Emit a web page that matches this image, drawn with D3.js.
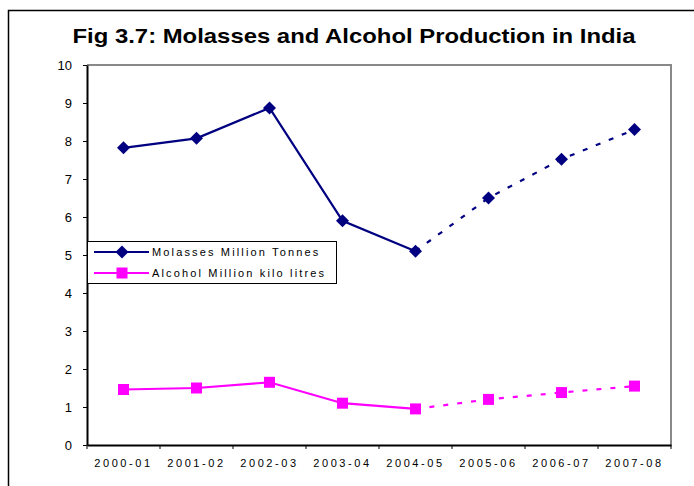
<!DOCTYPE html>
<html>
<head>
<meta charset="utf-8">
<script src="https://cdn.jsdelivr.net/npm/d3@7"></script>
<style>
  body { margin: 0; background: #fff; }
  svg { display: block; font-family: Arial, "Liberation Sans", sans-serif; }
</style>
</head>
<body>
<div id="chart"></div>
<script>
// chart data
const years = ["2000-01", "2001-02", "2002-03", "2003-04", "2004-05", "2005-06", "2006-07", "2007-08"];
const molasses = [7.82, 8.07, 8.87, 5.9, 5.1, 6.5, 7.52, 8.3];
const alcohol = [1.46, 1.5, 1.65, 1.1, 0.95, 1.2, 1.38, 1.55];
const yTicks = [0, 1, 2, 3, 4, 5, 6, 7, 8, 9, 10];
const lastActual = "2004-05"; // after this the values are projections (dashed)

const width = 694, height = 486;
const margin = { top: 65, right: 23, bottom: 41, left: 87 };

const svg = d3.select("#chart")
    .append("svg")
    .attr("width", width)
    .attr("height", height);

// outer frame
svg.append("rect")
    .attr("x", 8.5).attr("y", 10.5)
    .attr("width", 700).attr("height", 500)
    .attr("fill", "none")
    .attr("stroke", "#000")
    .attr("stroke-width", 1.5);

svg.append("text")
    .attr("x", 354)
    .attr("y", 43)
    .attr("text-anchor", "middle")
    .attr("textLength", 563)
    .attr("lengthAdjust", "spacingAndGlyphs")
    .style("font-size", "21px")
    .style("font-weight", "bold")
    .text("Fig 3.7: Molasses and Alcohol Production in India");

const x = d3.scaleBand()
    .domain(years)
    .range([margin.left, width - margin.right]);

const y = d3.scaleLinear()
    .domain([0, 10])
    .range([height - margin.bottom, margin.top]);

// plot area border (gray top/right)
svg.append("path")
    .attr("d", `M${margin.left},${margin.top}H${width - margin.right}V${height - margin.bottom}`)
    .attr("fill", "none")
    .attr("stroke", "#888")
    .attr("stroke-width", 2);

// y axis
const yAxis = svg.append("g")
    .attr("transform", `translate(${margin.left},0)`)
    .call(d3.axisLeft(y).tickValues(yTicks).tickSize(4).tickPadding(11).tickSizeOuter(0));
yAxis.select(".domain").attr("stroke", "#000").attr("stroke-width", 2);
yAxis.selectAll(".tick line").attr("stroke", "#000");
yAxis.selectAll(".tick text")
    .style("font-size", "13px")
    .style("font-family", "Arial, 'Liberation Sans', sans-serif")
    .attr("fill", "#000");

// x axis with ticks at category boundaries
const xAxis = svg.append("g")
    .attr("transform", `translate(0,${height - margin.bottom})`)
    .call(d3.axisBottom(x).tickSize(0).tickPadding(14));
xAxis.select(".domain").attr("stroke", "#000").attr("stroke-width", 2);
xAxis.selectAll(".tick text")
    .style("font-size", "11px")
    .style("letter-spacing", "2.6px")
    .style("font-family", "Arial, 'Liberation Sans', sans-serif")
    .attr("fill", "#000");
xAxis.selectAll(".bound")
    .data(d3.range(years.length + 1))
    .join("line")
    .attr("class", "bound")
    .attr("x1", i => margin.left + i * x.step())
    .attr("x2", i => margin.left + i * x.step())
    .attr("y1", 0).attr("y2", 4)
    .attr("stroke", "#000");

const cx = d => x(d) + x.bandwidth() / 2;
const split = years.indexOf(lastActual);

function drawSeries(values, color, marker) {
    const pts = years.map((d, i) => [cx(d), y(values[i])]);
    const line = d3.line();
    svg.append("path")
        .attr("d", line(pts.slice(0, split + 1)))
        .attr("fill", "none")
        .attr("stroke", color)
        .attr("stroke-width", 2.2);
    svg.append("path")
        .attr("d", line(pts.slice(split)))
        .attr("fill", "none")
        .attr("stroke", color)
        .attr("stroke-width", 2.2)
        .attr("stroke-dasharray", "5,9");
    svg.append("g")
        .selectAll("path")
        .data(pts)
        .join("path")
        .attr("transform", p => `translate(${p[0]},${p[1]})`)
        .attr("d", marker)
        .attr("fill", color);
}

const diamond = "M0,-6.5L6.5,0L0,6.5L-6.5,0Z";
const square = "M-5.5,-5.5H5.5V5.5H-5.5Z";
drawSeries(molasses, "#000080", diamond);
drawSeries(alcohol, "#ff00ff", square);

// legend
const legend = svg.append("g");
legend.append("rect")
    .attr("x", 87.5).attr("y", 241.5)
    .attr("width", 249).attr("height", 42)
    .attr("fill", "#fff")
    .attr("stroke", "#000");
const legendItems = [
    { name: "Molasses Million Tonnes", color: "#000080", marker: diamond },
    { name: "Alcohol Million kilo litres", color: "#ff00ff", marker: square }
];
legendItems.forEach((item, i) => {
    const ly = 252 + i * 21;
    legend.append("line")
        .attr("x1", 94).attr("x2", 149)
        .attr("y1", ly).attr("y2", ly)
        .attr("stroke", item.color)
        .attr("stroke-width", 2.2);
    legend.append("path")
        .attr("transform", `translate(122,${ly})`)
        .attr("d", item.marker)
        .attr("fill", item.color);
    legend.append("text")
        .attr("x", 152)
        .attr("y", ly + 4)
        .style("font-size", "11px")
        .style("letter-spacing", "2.15px")
        .text(item.name);
});
</script>
</body>
</html>
